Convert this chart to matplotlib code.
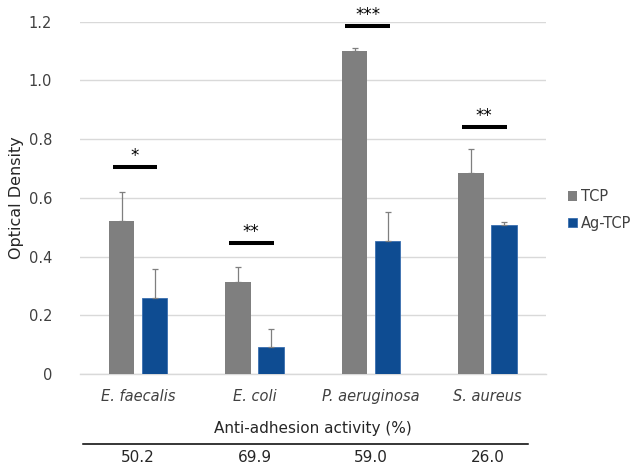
import matplotlib
matplotlib.use("Agg")
import matplotlib.pyplot as plt
import matplotlib.transforms as mtransforms
import numpy as np

# Data
species = ["E. faecalis", "E. coli", "P. aeruginosa", "S. aureus"]
tcp = [0.52, 0.315, 1.10, 0.685]
tcp_err = [0.10, 0.05, 0.01, 0.08]
agtcp = [0.258, 0.093, 0.452, 0.507]
agtcp_err = [0.10, 0.06, 0.10, 0.01]
sig_labels = ["*", "**", "***", "**"]
sig_heights = [0.706, 0.446, 1.186, 0.843]
anti_adhesion = ["50.2", "69.9", "59.0", "26.0"]

plt.rcParams['font.family'] = ['DejaVu Sans']

fig = plt.figure(figsize=(6.34, 4.66), dpi=100)
ax = fig.add_axes([0.126, 0.1974, 0.735, 0.756])

x = np.arange(len(species))
w = 0.219
off = 0.142

err_kw = dict(ecolor='#7f7f7f', elinewidth=0.9, capsize=2.5, capthick=0.9)
ax.bar(x - off, tcp, w, color='#7f7f7f', label='TCP', zorder=3)
ax.errorbar(x - off, tcp, yerr=[np.zeros(4), tcp_err], fmt='none', zorder=4, **err_kw)
ax.bar(x + off, agtcp, w, color='#0e4c92', edgecolor='#3a6fb0', linewidth=0.6,
       label='Ag-TCP', zorder=3)
ax.errorbar(x + off, agtcp, yerr=[np.zeros(4), agtcp_err], fmt='none', zorder=4, **err_kw)

# significance bars
for xi, h, s in zip(x, sig_heights, sig_labels):
    ax.plot([xi - 0.22, xi + 0.165], [h, h], color='black', linewidth=2.9,
            solid_capstyle='butt', zorder=5)
    ax.text(xi - 0.03, h + 0.006, s, ha='center', va='bottom', fontsize=12)

ax.set_xlim(-0.5, 3.5)
ax.set_ylim(0, 1.2)
ax.set_yticks([0, 0.2, 0.4, 0.6, 0.8, 1.0, 1.2])
ax.set_yticklabels(['0', '0.2', '0.4', '0.6', '0.8', '1.0', '1.2'])
ax.set_xticks(x)
ax.set_xticklabels(species, fontstyle='italic')
ax.tick_params(axis='both', length=0, labelsize=10.5, colors='#404040')
ax.tick_params(axis='y', pad=20)
ax.tick_params(axis='x', pad=11)
ax.grid(axis='y', color='#d9d9d9', linewidth=1, zorder=0)
ax.set_axisbelow(True)
for sp in ['top', 'right', 'left']:
    ax.spines[sp].set_visible(False)
ax.spines['bottom'].set_color('#d9d9d9')
ax.spines['bottom'].set_linewidth(1)

ax.set_ylabel('Optical Density', fontsize=11.5, color='#262626', labelpad=3)

leg = ax.legend(loc='center left', bbox_to_anchor=(1.047, 0.4655), frameon=False,
                handlelength=0.6, handleheight=0.6, handletextpad=0.3,
                labelspacing=0.8, borderaxespad=0, borderpad=0, fontsize=10.5)
for t in leg.get_texts():
    t.set_color('#404040')

# anti-adhesion row below the axis
trans = mtransforms.blended_transform_factory(ax.transData, ax.transAxes)
ax.text(1.5, -0.156, 'Anti-adhesion activity (%)', transform=trans, ha='center',
        va='center', fontsize=11, color='#262626')
ax.plot([-0.472, 3.348], [-0.2, -0.2], transform=trans, color='black',
        linewidth=1.1, clip_on=False)
for xi, v in zip(x, anti_adhesion):
    ax.text(xi, -0.236, v, transform=trans, ha='center', va='center',
            fontsize=11, color='#262626')

fig.savefig('out.png', dpi=100)
